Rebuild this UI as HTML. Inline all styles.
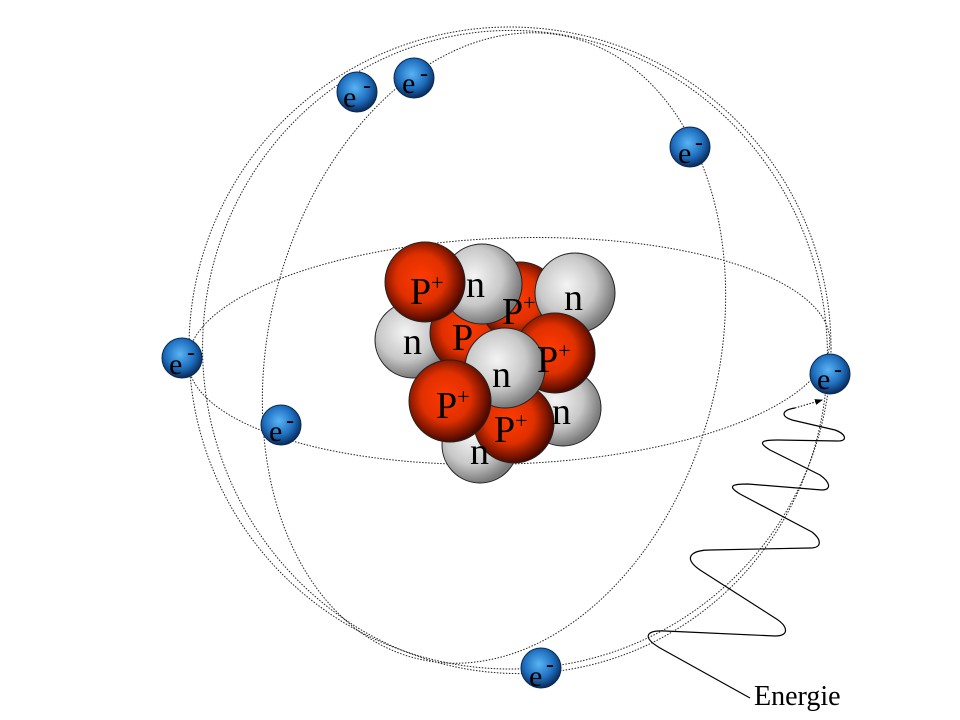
<!DOCTYPE html>
<html><head><meta charset="utf-8"><style>
html,body{margin:0;padding:0;background:#fff;overflow:hidden;}
svg{display:block;}
text{font-family:"Liberation Serif",serif;}
</style></head><body>
<svg width="960" height="720" viewBox="0 0 960 720" xmlns="http://www.w3.org/2000/svg">
<defs>
<radialGradient id="red" cx="0.45" cy="0.45" r="0.55">
<stop offset="0" stop-color="#ff3a00"/><stop offset="0.55" stop-color="#e03000"/><stop offset="1" stop-color="#4a0800"/></radialGradient>
<radialGradient id="gray" cx="0.4" cy="0.4" r="0.6">
<stop offset="0" stop-color="#f4f4f4"/><stop offset="0.6" stop-color="#c8c8c8"/><stop offset="1" stop-color="#7a7a7a"/></radialGradient>
<radialGradient id="blue" cx="0.45" cy="0.4" r="0.6">
<stop offset="0" stop-color="#5ab4f4"/><stop offset="0.6" stop-color="#1f70c0"/><stop offset="1" stop-color="#0a2a5a"/></radialGradient>
<marker id="arr" markerWidth="8" markerHeight="8" refX="7" refY="4" orient="auto"><path d="M0,1 L8,4 L0,7z" fill="#000"/></marker>
</defs>
<g fill="none" stroke="#222" stroke-width="1" stroke-dasharray="1.5 1.5">
<ellipse cx="509" cy="351" rx="321" ry="113" transform="rotate(-2 509 351)"/>
<circle cx="510" cy="348" r="321"/>
<ellipse cx="515" cy="352" rx="312" ry="322" transform="rotate(-12 515 352)"/>
<ellipse cx="494" cy="348" rx="225" ry="320" transform="rotate(14 494 348)"/>
</g>
<!-- nucleus -->
<g stroke="#222" stroke-width="1">
<circle cx="413" cy="340" r="38" fill="url(#gray)"/>
<circle cx="480" cy="445" r="38" fill="url(#gray)"/>
<circle cx="563" cy="408" r="38" fill="url(#gray)"/>
<circle cx="514" cy="423" r="40" fill="url(#red)"/>
<circle cx="470" cy="333" r="40" fill="url(#red)"/>
<circle cx="520" cy="302" r="40" fill="url(#red)"/>
<circle cx="482" cy="284" r="40" fill="url(#gray)"/>
<circle cx="425" cy="282" r="40" fill="url(#red)"/>
<circle cx="575" cy="293" r="40" fill="url(#gray)"/>
<circle cx="555" cy="353" r="40" fill="url(#red)"/>
<circle cx="505" cy="368" r="40" fill="url(#gray)"/>
<circle cx="450" cy="401" r="41" fill="url(#red)"/>
</g>
<g font-size="38" fill="#000">
<text x="403" y="354">n</text>
<text x="470" y="464">n</text>
<text x="552" y="424">n</text>
<text x="494" y="442">P<tspan font-size="22" dy="-14">+</tspan></text>
<text x="452" y="350">P</text>
<text x="502" y="324">P<tspan font-size="22" dy="-14">+</tspan></text>
<text x="466" y="297">n</text>
<text x="410" y="304">P<tspan font-size="22" dy="-14">+</tspan></text>
<text x="564" y="310">n</text>
<text x="537" y="372">P<tspan font-size="22" dy="-14">+</tspan></text>
<text x="492" y="387">n</text>
<text x="436" y="418">P<tspan font-size="22" dy="-14">+</tspan></text>
</g>
<!-- electrons -->
<g stroke="#0a2a50" stroke-width="1" fill="url(#blue)">
<circle cx="357" cy="92" r="20"/><circle cx="414" cy="78" r="20"/>
<circle cx="690" cy="147" r="20"/><circle cx="182" cy="358" r="20"/>
<circle cx="281" cy="425" r="20"/><circle cx="830" cy="374" r="20"/>
<circle cx="541" cy="668" r="20"/>
</g>
<g font-size="30" fill="#000">
<text x="343" y="107">e</text><text x="363" y="93" font-size="24">-</text>
<text x="402" y="93">e</text><text x="420" y="81" font-size="24">-</text>
<text x="678" y="163">e</text><text x="695" y="150" font-size="24">-</text>
<text x="169" y="374">e</text><text x="187" y="360" font-size="24">-</text>
<text x="269" y="441">e</text><text x="286" y="428" font-size="24">-</text>
<text x="817" y="389">e</text><text x="834" y="377" font-size="24">-</text>
<text x="529" y="686">e</text><text x="546" y="672" font-size="24">-</text>
</g>
<!-- energy wave -->
<path d="M750,698 L660,648 C640,636 648,630 665,631 L775,636 C790,636 788,626 775,618 L700,570 C680,556 695,550 710,550 L810,548 C822,548 822,540 812,532 L740,494 C725,485 735,484 748,484 L822,490 C832,490 830,482 820,475 L770,450 C755,441 765,440 778,440 L838,441 C848,441 846,434 835,430 L792,420 C780,416 782,410 795,408" fill="none" stroke="#000" stroke-width="1.2"/>
<path d="M795,408 L822,400" fill="none" stroke="#000" stroke-width="1" stroke-dasharray="1.5 1.5" marker-end="url(#arr)"/>
<text x="754" y="705" font-size="28" fill="#000">Energie</text>
</svg>
</body></html>
